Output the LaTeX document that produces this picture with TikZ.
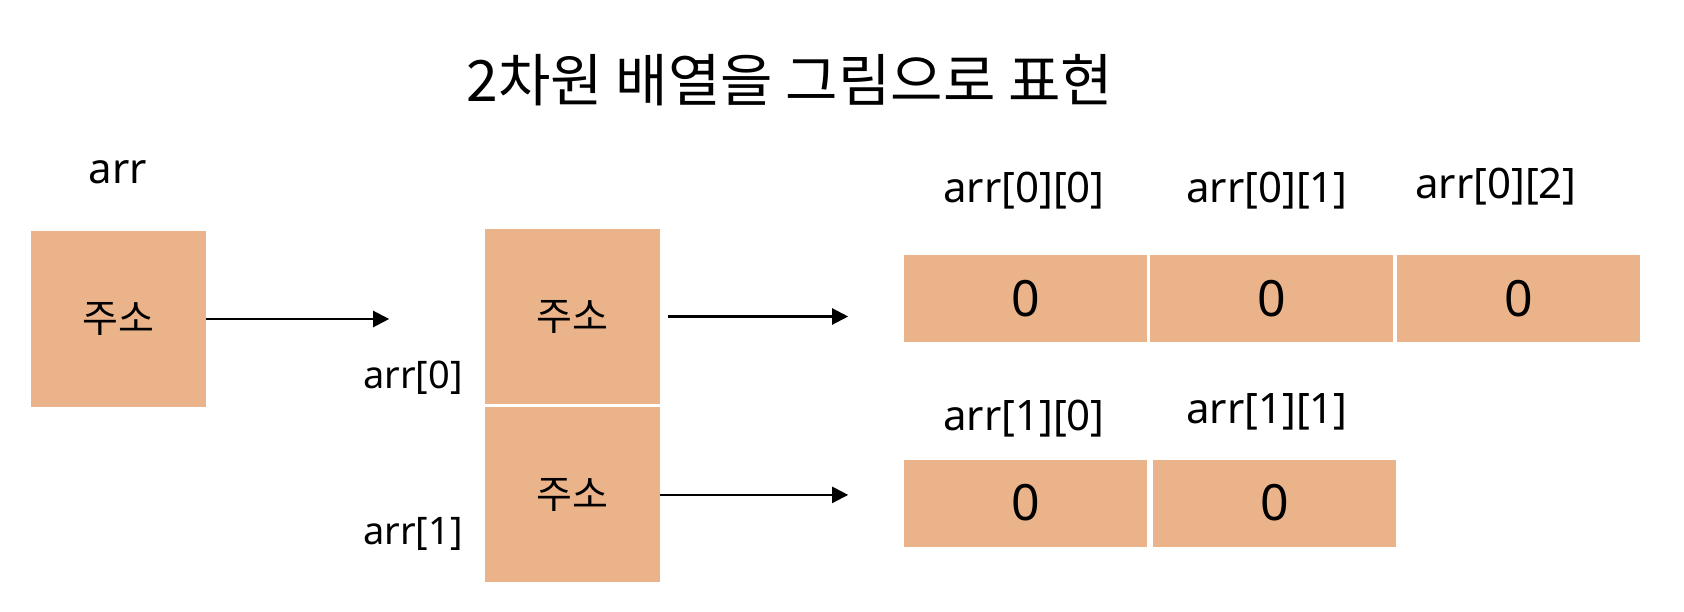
\documentclass[tikz,border=0pt]{standalone}
\usepackage{fontspec}
\setmainfont{Noto Sans}
\newfontfamily\krfont{Noto Sans CJK KR}
\usepackage{tikz}
\usetikzlibrary{positioning, arrows.meta}
\definecolor{boxorange}{HTML}{EAB38A}

\begin{document}
\begin{tikzpicture}[x=1pt, y=-1pt,
    box/.style={fill=boxorange, inner sep=0pt},
    addr/.style={box, minimum width=175pt, minimum height=175pt, font=\krfont\fontsize{39}{44}\selectfont},
    cell/.style={box, minimum width=243pt, minimum height=87pt, font=\fontsize{50}{60}\selectfont},
    lbl/.style={font=\fontsize{42}{50}\selectfont},
    ptr/.style={-{Triangle[length=16pt, width=16pt]}, line width=2.2pt}]
    \useasboundingbox (0,0) rectangle (1684,612);

    % Title
    \node[font=\krfont\fontsize{57}{64}\selectfont] (title) at (790,80) {2차원 배열을 그림으로 표현};

    % Pointer arr
    \node[addr] (arr) at (118.5,319) {주소};
    \node[lbl] (arrname) at (118,172) {arr};

    % Row pointers
    \node[addr] (ptr0) at (572.5,316.5) {주소};
    \node[addr, below=3pt of ptr0] (ptr1) {주소};
    \node[lbl, font=\fontsize{38}{46}\selectfont] (ptrname0) at (413,378) {arr[0]};
    \node[lbl, font=\fontsize{38}{46}\selectfont] (ptrname1) at (413,534) {arr[1]};

    % Row 0
    \node[cell] (c00) at (1025.5,298.5) {0};
    \node[cell, right=3pt of c00] (c01) {0};
    \node[cell, right=3pt of c01] (c02) {0};
    \node[lbl] (n00) at (1024,191) {arr[0][0]};
    \node[lbl] (n01) at (1267,191) {arr[0][1]};
    \node[lbl] (n02) at (1496,187) {arr[0][2]};

    % Row 1
    \node[cell] (c10) at (1025.5,503) {0};
    \node[cell, right=6pt of c10] (c11) {0};
    \node[lbl] (n10) at (1024,419) {arr[1][0]};
    \node[lbl] (n11) at (1267,412) {arr[1][1]};

    % Arrows
    \path (arr.east) ++(183,0) coordinate (tipa);
    \path (ptr0.east) ++(188,0) coordinate (tip0);
    \path (ptr1.east) ++(188,0) coordinate (tip1);
    \draw[ptr] (arr.east) -- (tipa);
    \draw[ptr, shorten <=8pt] (ptr0.east) -- (tip0);
    \draw[ptr] (ptr1.east) -- (tip1);
\end{tikzpicture}
\end{document}
